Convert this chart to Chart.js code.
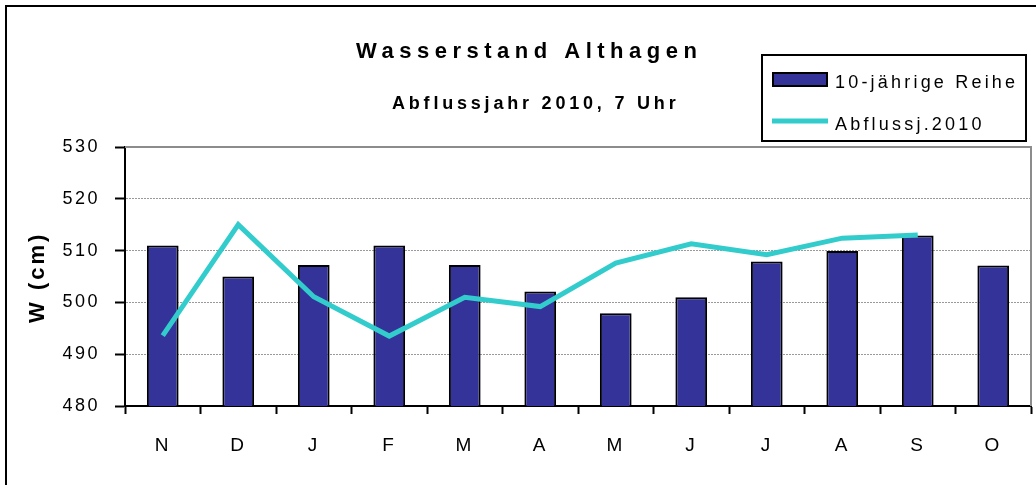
<!DOCTYPE html>
<html>
<head>
<meta charset="utf-8">
<script src="https://cdn.jsdelivr.net/npm/chart.js@4"></script>
<style>
  body { margin: 0; background: #fff; }
  canvas { display: block; }
</style>
</head>
<body>
<canvas id="pegelChart" width="1036" height="485"></canvas>
<script>
// Monate (Abflussjahr Nov - Okt)
const months = ['N', 'D', 'J', 'F', 'M', 'A', 'M', 'J', 'J', 'A', 'S', 'O'];
// 10-jährige Reihe (cm)
const reihe = [511, 505, 507.2, 511, 507.2, 502.1, 497.9, 501, 507.9, 509.9, 512.9, 507.1];
// Abflussjahr 2010 (cm), Oktober fehlt
const abfluss2010 = [493.6, 515, 501.1, 493.5, 501, 499.2, 507.6, 511.3, 509.2, 512.4, 513, null];
// y-Achse
const yMin = 480;
const yMax = 530;
const yStep = 10;

const FONT = '"Liberation Sans", Arial, sans-serif';

// Rahmen, Titel, Legende, Achsentitel
const decoPlugin = {
    id: 'deco',
    beforeDraw(chart) {
        const ctx = chart.ctx;
        ctx.save();
        ctx.fillStyle = '#fff';
        ctx.fillRect(0, 0, chart.width, chart.height);
        ctx.restore();
        ctx.letterSpacing = '2.5px';
    },
    afterDraw(chart) {
        const ctx = chart.ctx;
        const a = chart.chartArea;
        ctx.save();
        ctx.letterSpacing = '0px';

        // Plotrahmen oben / rechts
        ctx.strokeStyle = '#8c8c8c';
        ctx.lineWidth = 2;
        ctx.beginPath();
        ctx.moveTo(a.left, a.top);
        ctx.lineTo(a.right, a.top);
        ctx.lineTo(a.right, a.bottom);
        ctx.stroke();

        // äußerer Rahmen
        ctx.strokeStyle = '#000';
        ctx.lineWidth = 2;
        ctx.strokeRect(6, 6, 1040, 490);

        ctx.fillStyle = '#000';
        ctx.textBaseline = 'alphabetic';
        ctx.textAlign = 'left';

        ctx.font = 'bold 22px ' + FONT;
        ctx.letterSpacing = '5.5px';
        ctx.fillText('Wasserstand Althagen', 356, 58);

        ctx.font = 'bold 18px ' + FONT;
        ctx.letterSpacing = '3.8px';
        ctx.fillText('Abflussjahr 2010, 7 Uhr', 392, 108.5);

        // y-Achsentitel
        ctx.save();
        ctx.translate(44, 323);
        ctx.rotate(-Math.PI / 2);
        ctx.font = 'bold 22px ' + FONT;
        ctx.letterSpacing = '3px';
        ctx.fillText('W (cm)', 0, 0);
        ctx.restore();

        // Legende
        ctx.fillStyle = '#fff';
        ctx.fillRect(762, 55, 264, 86);
        ctx.strokeStyle = '#000';
        ctx.lineWidth = 2;
        ctx.strokeRect(762, 55, 264, 86);

        const bar = chart.data.datasets.find(d => d.type === 'bar');
        const line = chart.data.datasets.find(d => d.type === 'line');

        ctx.fillStyle = bar.backgroundColor;
        ctx.fillRect(773, 73, 54, 13);
        ctx.strokeStyle = bar.borderColor;
        ctx.lineWidth = 2;
        ctx.strokeRect(773, 73, 54, 13);

        ctx.strokeStyle = line.borderColor;
        ctx.lineWidth = 5;
        ctx.beginPath();
        ctx.moveTo(772, 121);
        ctx.lineTo(828, 121);
        ctx.stroke();

        ctx.fillStyle = '#000';
        ctx.font = '18px ' + FONT;
        ctx.letterSpacing = '3.2px';
        ctx.fillText(bar.label, 835, 87.5);
        ctx.fillText(line.label, 835, 129.5);

        ctx.restore();
    }
};

const ctx = document.getElementById('pegelChart');
new Chart(ctx, {
    data: {
        labels: months,
        datasets: [
            {
                type: 'line',
                label: 'Abflussj.2010',
                data: abfluss2010,
                borderColor: '#33CCCC',
                backgroundColor: '#33CCCC',
                borderWidth: 5,
                pointRadius: 0,
                tension: 0,
                spanGaps: false,
                order: 0
            },
            {
                type: 'bar',
                label: '10-jährige Reihe',
                data: reihe,
                backgroundColor: '#333399',
                borderColor: '#000000',
                borderWidth: 2,
                categoryPercentage: 1,
                barPercentage: 0.42,
                order: 1
            }
        ]
    },
    options: {
        responsive: false,
        animation: false,
        devicePixelRatio: 1,
        layout: { padding: { left: 0, right: 5, top: 147, bottom: 0 } },
        plugins: {
            legend: { display: false },
            title: { display: false },
            tooltip: { enabled: false }
        },
        scales: {
            x: {
                offset: true,
                grid: {
                    offset: true,
                    drawOnChartArea: false,
                    drawTicks: true,
                    tickLength: 8,
                    tickColor: '#000',
                    tickWidth: 2
                },
                border: { color: '#000', width: 2 },
                ticks: {
                    autoSkip: false,
                    maxRotation: 0,
                    padding: 20,
                    color: '#000',
                    font: { family: FONT, size: 19 }
                },
                afterFit(scale) { scale.height = 79; }
            },
            y: {
                min: yMin,
                max: yMax,
                grid: {
                    color: '#9a9a9a',
                    lineWidth: 1,
                    tickLength: 10,
                    tickColor: '#000',
                    tickWidth: 2,
                    tickBorderDash: []
                },
                border: { color: '#000', width: 2, dash: [2, 1] },
                ticks: {
                    stepSize: yStep,
                    padding: 15,
                    color: '#000',
                    font: { family: FONT, size: 18 }
                },
                afterFit(scale) { scale.width = 125; }
            }
        }
    },
    plugins: [decoPlugin]
});
</script>
</body>
</html>
